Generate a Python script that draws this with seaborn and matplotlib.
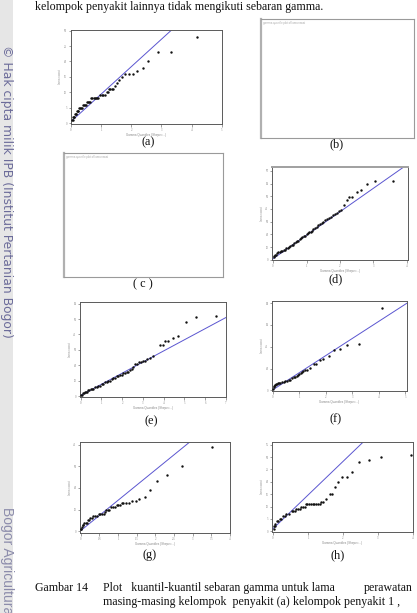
import matplotlib
matplotlib.use("Agg")
import matplotlib.pyplot as plt
import seaborn as sns
import pandas as pd

sns.set_theme(style="white")
plt.rcParams['font.family'] = ['Liberation Serif', 'DejaVu Serif']

W, H = 417, 613

# ---------------- data ----------------
top_text = "kelompok penyakit lainnya tidak mengikuti sebaran gamma."
caption_label = "Gambar 14"
caption_line1a = "Plot   kuantil-kuantil sebaran gamma untuk lama"
caption_line1b = "perawatan"
caption_line2a = "masing-masing kelompok  penyakit (a)"
caption_line2b = "kelompok penyakit 1 ,"
caption_line3 = "(b)  kelompok penyakit 2 , (c)  kelompok penyakit 3 , (d)  kelompok"
watermark1 = "\u00a9 Hak cipta milik IPB (Institut Pertanian Bogor)"
watermark2 = "Bogor Agricultural University"
panel_labels = ["(a)", "(b)", "( c )", "(d)", "(e)", "(f)", "(g)", "(h)"]
x_axis_label = "Gamma Quantiles (Shape=...)"
y_axis_label = "lama rawat"

a_x = [0.03,0.05,0.07,0.09,0.11,0.13,0.15,0.17,0.20,0.22,0.24,0.26,0.29,0.32,0.35,
       0.40,0.43,0.46,0.50,0.53,0.57,0.60,0.64,0.67,0.71,0.75,0.79,0.83,0.87,0.91,
       0.97,1.02,1.07,1.12,1.18,1.22,1.27,1.31,1.36,1.40,1.45,1.52,1.60,1.69,1.80,
       1.91,2.05,2.19,2.38,2.57,2.87,3.31,4.17]
a_y = [1,1,2,2,2,3,3,3,4,4,4,5,5,5,5,6,6,6,6,7,7,7,7,8,8,8,8,8,8,8,9,9,9,9,10,10,
       11,11,11,11,12,13,14,15,16,16,16,17,18,20,23,23,28]
a_line = (0.5, 8.9)      # intercept, slope
a_xticks = [0, 1, 2, 3, 4, 5]
a_yticks = [0, 5, 10, 15, 20, 25, 30]

d_x = [0.02,0.04,0.07,0.10,0.13,0.16,0.20,0.24,0.28,0.32,0.36,0.40,0.44,0.48,0.52,
       0.56,0.60,0.64,0.68,0.72,0.76,0.80,0.84,0.88,0.92,0.96,1.00,1.04,1.08,1.12,
       1.16,1.20,1.25,1.30,1.35,1.40,1.45,1.50,1.56,1.62,1.68,1.74,1.80,1.86,1.92,
       1.98,2.04,2.13,2.20,2.28,2.37,2.50,2.63,2.80,3.05,3.57]
d_y = [2,3,4,4,5,6,6,7,7,8,8,9,9,10,11,12,12,13,14,15,15,16,17,18,19,19,20,21,22,22,
       23,24,25,26,27,28,29,30,31,32,33,34,35,36,37,38,39,43,47,49,49,53,55,60,62,62]
d_line = (0.8, 18.5)
d_xticks = [0, 1, 2, 3, 4]
d_yticks = [0, 10, 20, 30, 40, 50, 60, 70]

e_x = [0.02,0.06,0.10,0.15,0.20,0.25,0.30,0.36,0.42,0.48,0.55,0.62,0.70,0.78,0.86,
       0.94,1.02,1.10,1.18,1.26,1.34,1.42,1.50,1.58,1.66,1.74,1.82,1.90,1.98,2.06,
       2.14,2.22,2.30,2.38,2.46,2.54,2.62,2.70,2.80,2.90,3.00,3.10,3.22,3.34,3.50,
       3.82,3.95,4.06,4.22,4.46,4.70,5.07,5.54,6.52]
e_y = [1,1,2,2,3,3,3,4,4,5,5,5,6,6,7,7,8,8,9,9,10,10,11,12,12,13,13,14,14,15,15,16,
       16,17,18,19,21,21,22,22,23,23,24,25,26,33,33,36,36,38,39,48,51,52]
e_line = (0.6, 7.2)
e_xticks = [0, 1, 2, 3, 4, 5, 6, 7]
e_yticks = [0, 10, 20, 30, 40, 50, 60]

f_x = [0.01,0.03,0.05,0.08,0.10,0.13,0.16,0.20,0.24,0.29,0.35,0.41,0.47,0.54,0.60,
       0.66,0.72,0.79,0.85,0.91,0.96,1.00,1.05,1.10,1.15,1.20,1.29,1.41,1.54,1.63,
       1.79,1.91,2.13,2.31,2.54,2.79,3.25,4.10]
f_y = [1,3,4,5,5,6,6,7,7,7,8,8,9,9,10,10,11,12,12,13,14,15,16,17,18,19,19,21,24,24,
       28,29,32,37,38,42,43,76]
f_line = (0.6, 15.7)
f_xticks = [0, 1, 2, 3, 4, 5]
f_yticks = [0, 20, 40, 60, 80]

g_x = [0.01,0.02,0.03,0.05,0.07,0.10,0.13,0.16,0.20,0.23,0.26,0.29,0.33,0.38,0.43,
       0.48,0.52,0.57,0.61,0.65,0.68,0.72,0.77,0.82,0.87,0.91,0.96,1.01,1.06,1.10,
       1.14,1.21,1.29,1.38,1.48,1.57,1.71,1.86,2.04,2.30,2.71,3.51]
g_y = [1,1,2,3,3,4,4,4,5,5,6,6,7,7,7,8,8,8,8,9,10,10,10,11,11,11,12,12,12,13,13,13,
       13,14,14,15,16,19,23,26,30,39]
g_line = (0.3, 14.0)
g_xticks = [0, 0.5, 1, 1.5, 2, 2.5, 3, 3.5, 4]
g_yticks = [0, 10, 20, 30, 40]

h_x = [0.02,0.03,0.05,0.07,0.10,0.14,0.19,0.24,0.29,0.33,0.38,0.45,0.53,0.58,0.62,
       0.67,0.72,0.77,0.81,0.86,0.91,0.93,0.98,1.03,1.08,1.13,1.18,1.23,1.28,1.34,
       1.37,1.44,1.50,1.63,1.69,1.77,1.87,1.98,2.11,2.27,2.47,2.73,3.09,3.95]
h_y = [1,2,2,3,4,4,5,5,6,6,7,7,8,8,8,9,9,9,10,10,10,11,11,11,11,11,11,11,11,11,12,
       12,13,15,15,18,20,22,22,24,28,29,30,31]
h_line = (1.05, 13.6)
h_xticks = [0, 1, 2, 3, 4]
h_yticks = [0, 5, 10, 15, 20, 25, 30, 35]

# ---------------- figure ----------------
fig = plt.figure(figsize=(W / 100, H / 100), dpi=100)
fig.patch.set_facecolor("white")


def box(x0, y0, x1, y1):
    return fig.add_axes([x0 / W, 1 - y1 / H, (x1 - x0) / W, (y1 - y0) / H])


def ftext(x, y, s, **kw):
    fig.text(x / W, 1 - y / H, s, **kw)


# left watermark strip
strip = fig.add_axes([0, 0, 12.5 / W, 1])
strip.set_facecolor("#e6e6e6")
strip.set_xticks([]); strip.set_yticks([])
for s in strip.spines.values():
    s.set_visible(False)
ftext(6.5, 45, watermark1, rotation=270, ha="center", va="top",
      fontsize=8.9, color="#6c6c9a", family=["DejaVu Sans"])
ftext(6.5, 507, watermark2, rotation=270, ha="center", va="top",
      fontsize=10, color="#8c8cab", family=["Liberation Sans", "DejaVu Sans"])

FS = 8.6
# top text
ftext(35, 7, top_text, ha="left", va="center", fontsize=FS, color="#111")


def qq_panel(rect, xs, ys, line, xticks, yticks, xlim, ylim):
    ax = box(*rect)
    df = pd.DataFrame({"q": xs, "v": ys})
    sns.scatterplot(data=df, x="q", y="v", ax=ax, s=3.0, color="#111",
                    marker="o", linewidth=0, legend=False, zorder=3)
    ax.axline((0, line[0]), slope=line[1], color="#5a55d0", lw=0.7, zorder=2)
    ax.set_xlim(*xlim)
    ax.set_ylim(*ylim)
    ax.set_xticks(xticks)
    ax.set_yticks(yticks)
    ax.set_xticklabels([str(t) for t in xticks])
    ax.set_yticklabels([str(t) for t in yticks])
    ax.tick_params(axis="both", which="both", direction="out", length=1.8,
                   width=0.4, color="#555", labelsize=2.2, labelcolor="#888",
                   pad=0.8, bottom=True, left=True)
    ax.set_xlabel(x_axis_label, fontsize=2.2, color="#888", labelpad=0.8,
                  family=["Liberation Sans", "DejaVu Sans"])
    ax.set_ylabel(y_axis_label, fontsize=2.2, color="#999", labelpad=1.2,
                  family=["Liberation Sans", "DejaVu Sans"])
    for s in ax.spines.values():
        s.set_color("#5a5a5a")
        s.set_linewidth(0.7)
    ax.set_facecolor("white")
    return ax


def empty_panel(rect):
    ax = box(*rect)
    ax.set_xticks([]); ax.set_yticks([])
    for s in ax.spines.values():
        s.set_color("#9a9a9a")
        s.set_linewidth(0.8)
    ax.spines["left"].set_linewidth(1.6)
    ax.spines["left"].set_color("#b0b0b0")
    ax.text(0.01, 0.985, "gamma quantile plot of lama rawat", transform=ax.transAxes,
            ha="left", va="top", fontsize=2, color="#aaa",
            family=["Liberation Sans", "DejaVu Sans"])
    return ax


qq_panel((70.7, 30, 221.7, 124), a_x, a_y, a_line, a_xticks, a_yticks,
         (-0.01, 5.0), (-0.3, 30.2))
empty_panel((261, 19, 414, 138))
empty_panel((64, 153, 223, 277))
ax_d = qq_panel((272, 167, 408, 260), d_x, d_y, d_line, d_xticks, d_yticks,
                (-0.03, 4.03), (-0.2, 73))
ax_d.spines["top"].set_color("#a0a0a0")
ax_d.spines["top"].set_linewidth(1.4)
qq_panel((80, 302, 226, 397), e_x, e_y, e_line, e_xticks, e_yticks,
         (-0.03, 7.0), (-0.4, 61))
qq_panel((272, 301, 407, 391), f_x, f_y, f_line, f_xticks, f_yticks,
         (-0.03, 5.06), (-0.5, 82))
qq_panel((80, 442, 230, 533), g_x, g_y, g_line, g_xticks, g_yticks,
         (-0.02, 4.0), (-0.8, 41.2))
qq_panel((272, 442, 413, 532), h_x, h_y, h_line, h_xticks, h_yticks,
         (-0.03, 3.99), (-0.3, 36.1))

# panel labels
label_pos = [(148, 142.5), (337, 144), (143, 284), (336, 279),
             (151, 421), (336, 419), (150, 555), (338, 555)]
for (lx, ly), lab in zip(label_pos, panel_labels):
    ftext(lx, ly, lab, ha="center", va="center", fontsize=8.8, color="#111")

# caption
ftext(35, 588, caption_label, ha="left", va="center", fontsize=FS, color="#111")
ftext(103, 588, caption_line1a, ha="left", va="center", fontsize=FS, color="#111")
ftext(413, 588, caption_line1b, ha="right", va="center", fontsize=FS, color="#111")
ftext(103, 602, caption_line2a, ha="left", va="center", fontsize=FS, color="#111")
ftext(293, 602, caption_line2b, ha="left", va="center", fontsize=FS, color="#111")
ftext(103, 619, caption_line3, ha="left", va="center", fontsize=FS, color="#111")

fig.savefig("out.png", dpi=100, facecolor="white")
